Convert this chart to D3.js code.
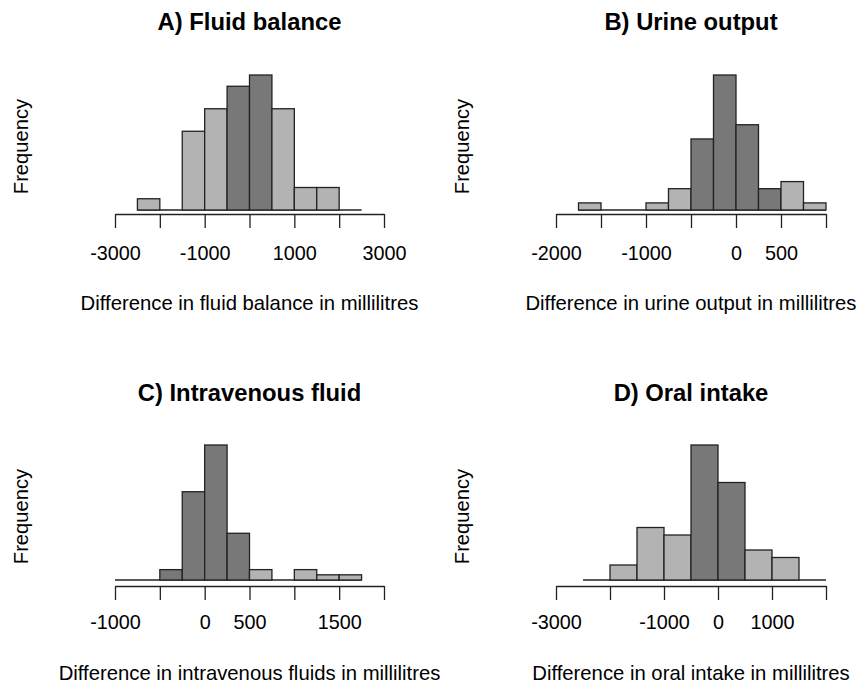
<!DOCTYPE html>
<html>
<head>
<meta charset="utf-8">
<script src="https://cdn.jsdelivr.net/npm/d3@7"></script>
<style>
body { margin: 0; background: #fff; }
text { font-family: "Liberation Sans", Arial, sans-serif; fill: #000; }
</style>
</head>
<body>
<svg width="858" height="686"></svg>
<script>
// panel texts
var titles = ['A) Fluid balance', 'B) Urine output', 'C) Intravenous fluid', 'D) Oral intake'];
var xLabels = ['Difference in fluid balance in millilitres',
               'Difference in urine output in millilitres',
               'Difference in intravenous fluids in millilitres',
               'Difference in oral intake in millilitres'];

// histogram bins: first break, bin width, counts
var binStart = [-2500, -1750, -1000, -2500];
var binWidth = [500, 250, 250, 500];
var countsA = [1, 0, 7, 9, 11, 12, 9, 2, 2, 0];
var countsB = [1, 0, 0, 1, 3, 10, 19, 12, 3, 4, 1];
var countsC = [0, 0, 2, 17, 26, 9, 2, 0, 2, 1, 1];
var countsD = [0, 2, 7, 6, 18, 13, 4, 3, 0];

// axis ticks (empty label = dropped by R for overlap)
var ticksA = [-3000, -2000, -1000, 0, 1000, 2000, 3000];
var tickLabelsA = ['-3000', '', '-1000', '', '1000', '', '3000'];
var ticksB = [-2000, -1500, -1000, -500, 0, 500, 1000];
var tickLabelsB = ['-2000', '', '-1000', '', '0', '500', ''];
var ticksC = [-1000, -500, 0, 500, 1000, 1500, 2000];
var tickLabelsC = ['-1000', '', '0', '500', '', '1500', ''];
var ticksD = [-3000, -2000, -1000, 0, 1000, 2000];
var tickLabelsD = ['-3000', '', '-1000', '0', '1000', ''];

// bins inside this range are shaded dark
var highlight = [-500, 500];

var counts = [countsA, countsB, countsC, countsD];
var ticks = [ticksA, ticksB, ticksC, ticksD];
var tickLabels = [tickLabelsA, tickLabelsB, tickLabelsC, tickLabelsD];

// layout of the 2x2 grid
var cols = [{x0: 115, x1: 384, ylab: 28}, {x0: 556, x1: 826, ylab: 469}];
var rows = [
  {base: 210, axisY: 214, tickY: 260, labY: 310, titleY: 30},
  {base: 580, axisY: 586, tickY: 629, labY: 680, titleY: 401}
];
var barH = 135;

var svg = d3.select('svg');

for (var p = 0; p < 4; p++) {
  var c = cols[p % 2], r = rows[Math.floor(p / 2)];
  var tv = ticks[p], tl = tickLabels[p];
  var bins = counts[p].map(function (n, i) {
    var lo = binStart[p] + i * binWidth[p];
    return {lo: lo, hi: lo + binWidth[p], n: n};
  });

  var x = d3.scaleLinear().domain([tv[0], tv[tv.length - 1]]).range([c.x0, c.x1]);
  var y = d3.scaleLinear().domain([0, d3.max(bins, function (d) { return d.n; })]).range([r.base, r.base - barH]);

  var g = svg.append('g');

  // baseline under empty bins
  g.append('line')
    .attr('x1', x(bins[0].lo)).attr('x2', x(bins[bins.length - 1].hi))
    .attr('y1', r.base).attr('y2', r.base)
    .attr('stroke', '#222').attr('stroke-width', 1.3);

  g.selectAll('rect').data(bins.filter(function (d) { return d.n > 0; }))
    .enter().append('rect')
    .attr('x', function (d) { return x(d.lo); })
    .attr('y', function (d) { return y(d.n); })
    .attr('width', function (d) { return x(d.hi) - x(d.lo); })
    .attr('height', function (d) { return r.base - y(d.n); })
    .attr('fill', function (d) { return (d.lo >= highlight[0] && d.hi <= highlight[1]) ? '#787878' : '#b3b3b3'; })
    .attr('stroke', '#222')
    .attr('stroke-width', 1.3);

  // x axis
  var ax = g.append('g')
    .attr('transform', 'translate(0,' + r.axisY + ')')
    .call(d3.axisBottom(x).tickValues(tv).tickSize(14).tickSizeOuter(0)
      .tickFormat(function (d, i) { return tl[i]; }));
  ax.select('.domain').attr('stroke', '#222').attr('stroke-width', 1.3);
  ax.selectAll('.tick line').attr('stroke', '#222').attr('stroke-width', 1.3);
  ax.selectAll('.tick text')
    .attr('y', r.tickY - r.axisY).attr('dy', 0)
    .style('font-size', '19.8px').style('font-family', '"Liberation Sans", Arial, sans-serif')
    .attr('fill', '#000');

  // texts
  g.append('text')
    .attr('x', (c.x0 + c.x1) / 2).attr('y', r.titleY)
    .attr('text-anchor', 'middle')
    .style('font-size', '23.8px').style('font-weight', 'bold')
    .text(titles[p]);
  g.append('text')
    .attr('x', (c.x0 + c.x1) / 2).attr('y', r.labY)
    .attr('text-anchor', 'middle')
    .style('font-size', '20.3px')
    .text(xLabels[p]);
  g.append('text')
    .attr('transform', 'translate(' + c.ylab + ',' + (r.base - barH / 2 + 4) + ') rotate(-90)')
    .attr('text-anchor', 'middle')
    .style('font-size', '20.2px')
    .text('Frequency');
}
</script>
</body>
</html>
